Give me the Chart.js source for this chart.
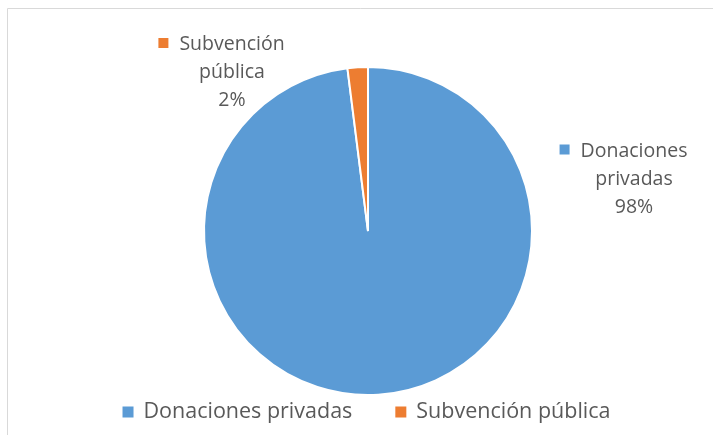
<!DOCTYPE html>
<html>
<head>
<meta charset="utf-8">
<script src="https://cdn.jsdelivr.net/npm/chart.js@4"></script>
<style>
  html, body { margin: 0; padding: 0; background: #fff; }
  #wrap { width: 713px; height: 435px; position: relative; }
</style>
</head>
<body>
<div id="wrap"><canvas id="grafico" width="713" height="435"></canvas></div>
<script>
const categorias = ['Donaciones privadas', 'Subvención pública'];
const valores = [98, 2];          // porcentaje
const colores = ['#5B9BD5', '#ED7D31'];

// etiquetas de datos (líneas del texto)
const etiquetas = [
  ['Donaciones', 'privadas', '98%'],
  ['Subvención', 'pública', '2%']
];

const FONT = '"Open Sans", "Noto Sans", sans-serif';
const TEXTO = '#595959';

// centro x y línea base de la primera línea de cada etiqueta
const posEtiquetas = [
  { x: 634, y: 156.5 },
  { x: 232, y: 50 }
];

const marcoYEtiquetas = {
  id: 'marcoYEtiquetas',
  afterDraw(chart) {
    const ctx = chart.ctx;
    ctx.save();

    // borde del gráfico
    ctx.strokeStyle = '#D9D9D9';
    ctx.lineWidth = 1;
    ctx.beginPath();
    ctx.moveTo(7.5, 435);
    ctx.lineTo(7.5, 8.5);
    ctx.lineTo(713, 8.5);
    ctx.stroke();

    ctx.font = '19.5px ' + FONT;
    ctx.textAlign = 'center';
    ctx.textBaseline = 'alphabetic';

    const ds = chart.data.datasets[0];
    etiquetas.forEach((lineas, i) => {
      const p = posEtiquetas[i];
      lineas.forEach((t, k) => {
        ctx.fillStyle = TEXTO;
        ctx.fillText(t, p.x, p.y + k * 28);
      });
      const w = ctx.measureText(lineas[0]).width;
      ctx.fillStyle = ds.backgroundColor[i];
      ctx.fillRect(p.x - w / 2 - 21, p.y - 12, 10, 10);
    });

    // leyenda inferior
    ctx.font = '21.5px ' + FONT;
    const yLey = 417.5;
    const anchos = chart.data.labels.map(l => ctx.measureText(l).width);
    const gapCaja = 10, caja = 11, sep = 43;
    let total = 0;
    anchos.forEach((w, i) => { total += caja + gapCaja + w + (i ? sep : 0); });
    let x = 366.5 - total / 2;
    ctx.textAlign = 'left';
    chart.data.labels.forEach((l, i) => {
      if (i) x += sep;
      ctx.fillStyle = ds.backgroundColor[i];
      ctx.fillRect(x, yLey - 11, caja, caja);
      x += caja + gapCaja;
      ctx.fillStyle = TEXTO;
      ctx.fillText(l, x, yLey);
      x += anchos[i];
    });

    ctx.restore();
  }
};

new Chart(document.getElementById('grafico').getContext('2d'), {
  type: 'pie',
  data: {
    labels: categorias,
    datasets: [{
      data: valores,
      backgroundColor: colores,
      borderColor: '#ffffff',
      borderWidth: 2
    }]
  },
  options: {
    responsive: false,
    animation: false,
    layout: { padding: { top: 66, bottom: 39, left: 203, right: 180 } },
    plugins: {
      legend: { display: false },
      tooltip: { enabled: false }
    }
  },
  plugins: [marcoYEtiquetas]
});
</script>
</body>
</html>
